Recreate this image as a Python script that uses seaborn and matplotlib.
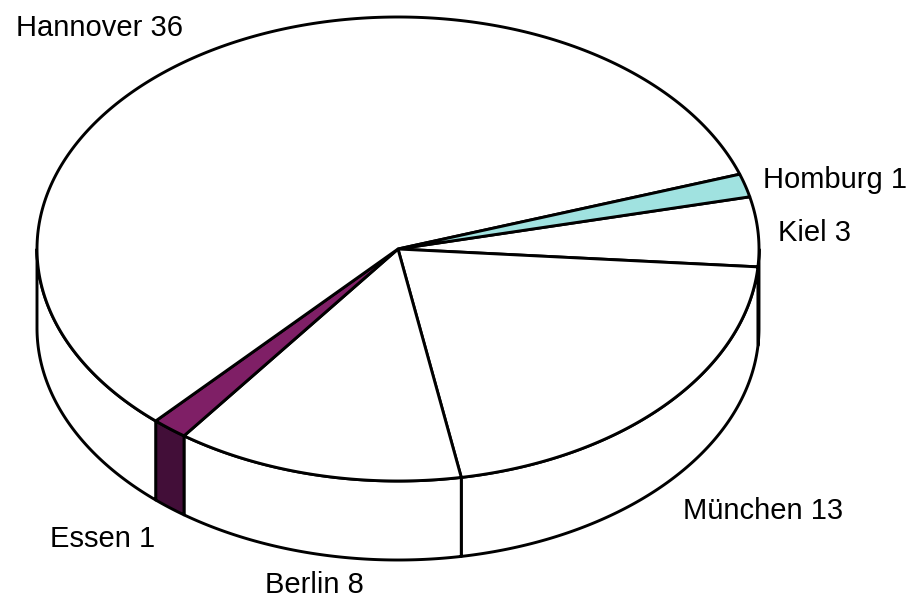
import numpy as np
import matplotlib
matplotlib.use("Agg")
import matplotlib.pyplot as plt
import seaborn as sns

cities = ["Kiel", "München", "Berlin", "Essen", "Hannover", "Homburg"]
counts = [3, 13, 8, 1, 36, 1]
top_colors = ["#ffffff", "#ffffff", "#ffffff", "#7f1f66", "#ffffff", "#a0e2e0"]
side_colors = ["#ffffff", "#ffffff", "#ffffff", "#420e38", "#ffffff", "#ffffff"]
label_xy = [(815, 233), (763, 511), (314, 585), (103, 539), (99, 28), (835, 180)]

sns.set_theme(style="white")
plt.rcParams["font.family"] = ["Liberation Sans", "DejaVu Sans"]

W, H = 909, 599
CX, CY, RX, RY, DEPTH = 398.0, 249.0, 361.0, 232.0, 79.0
START = 13.0  # upper edge of the first slice, degrees on the disc

fig = plt.figure(figsize=(W / 100, H / 100), dpi=100, facecolor="white")
ax = fig.add_axes([0, 0, 1, 1])
ax.set_xlim(0, W)
ax.set_ylim(H, 0)
ax.axis("off")


def rim(a0, a1, drop=0.0):
    t = np.radians(np.linspace(a0, a1, 240))
    return CX + RX * np.cos(t), CY - RY * np.sin(t) + drop


sweep = 360.0 * np.array(counts) / sum(counts)
ends = START - np.cumsum(sweep)
starts = ends + sweep
lw = 2.1

# Outer wall: only the front half of the disc is visible
for a1, a0, color in zip(starts, ends, side_colors):
    lo, hi = max(a0, -180.0), min(a1, 0.0)
    if hi <= lo:
        continue
    x, y = rim(hi, lo)
    xb, yb = rim(lo, hi, DEPTH)
    ax.fill(np.r_[x, xb], np.r_[y, yb], facecolor=color, edgecolor="black",
            linewidth=lw, joinstyle="round", zorder=2)

# Top face of each slice, then its label
for a1, a0, color, name, n, (lx, ly) in zip(starts, ends, top_colors, cities, counts, label_xy):
    x, y = rim(a1, a0)
    ax.fill(np.r_[CX, x], np.r_[CY, y], facecolor=color, edgecolor="black",
            linewidth=lw, joinstyle="round", zorder=3)
    ax.text(lx, ly, f"{name} {n}", ha="center", va="center", fontsize=21,
            color="black", zorder=4)

sns.despine(ax=ax, left=True, bottom=True)
fig.savefig("out.png", dpi=100, facecolor="white")
